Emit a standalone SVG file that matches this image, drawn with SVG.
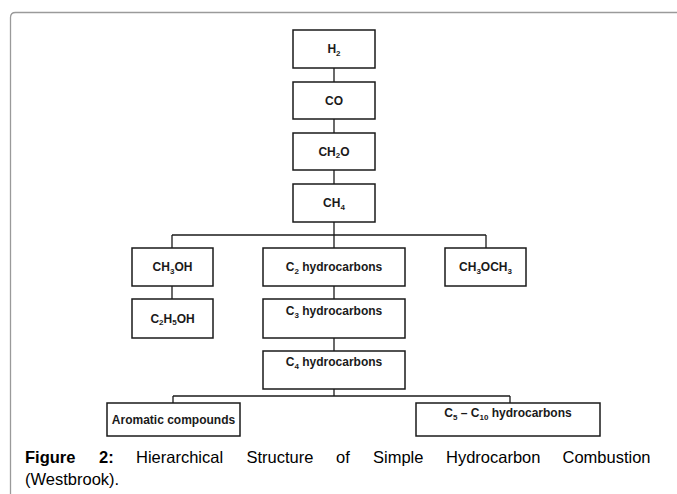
<svg xmlns="http://www.w3.org/2000/svg" width="677" height="494" viewBox="0 0 677 494">
<style>
.box{fill:#fff;stroke:#1a1a1a;stroke-width:1.5}
.lbl{font-family:"Liberation Sans",Arial,sans-serif;font-weight:bold;font-size:12px;fill:#1a1a1a;text-anchor:middle}
.sub{font-size:8px}
.conn line{stroke:#1a1a1a;stroke-width:1.3}
.cap{font-family:"Liberation Sans",Arial,sans-serif;font-size:16.5px;fill:#000}
</style>
<rect width="677" height="494" fill="#fff"/>
<path d="M10.5 494 V17.5 Q10.5 12.5 15.5 12.5 H677" fill="none" stroke="#9a9a9a" stroke-width="1.3"/>
<g class="conn">
<line x1="334" y1="68" x2="334" y2="82"/>
<line x1="334" y1="119" x2="334" y2="133"/>
<line x1="334" y1="170" x2="334" y2="184"/>
<line x1="334" y1="222" x2="334" y2="235"/>
<line x1="172" y1="235" x2="486" y2="235"/>
<line x1="172" y1="235" x2="172" y2="248"/>
<line x1="334" y1="235" x2="334" y2="248"/>
<line x1="486" y1="235" x2="486" y2="248"/>
<line x1="172" y1="286" x2="172" y2="299"/>
<line x1="334" y1="286" x2="334" y2="299"/>
<line x1="334" y1="338" x2="334" y2="351"/>
<line x1="334" y1="389" x2="334" y2="396"/>
<line x1="173" y1="396" x2="510" y2="396"/>
<line x1="173" y1="396" x2="173" y2="403"/>
<line x1="510" y1="396" x2="510" y2="403"/>
</g>
<g id="h2"><rect class="box" x="293" y="30" width="82" height="38"/><text class="lbl" x="334" y="53">H<tspan class="sub" dy="2.5">2</tspan></text></g>
<g id="co"><rect class="box" x="293" y="82" width="82" height="37"/><text class="lbl" x="334" y="104.5">CO</text></g>
<g id="ch2o"><rect class="box" x="293" y="133" width="82" height="37"/><text class="lbl" x="334" y="155.5">CH<tspan class="sub" dy="2.5">2</tspan><tspan dy="-2.5">O</tspan></text></g>
<g id="ch4"><rect class="box" x="293" y="184" width="82" height="38"/><text class="lbl" x="334" y="207">CH<tspan class="sub" dy="2.5">4</tspan></text></g>
<g id="ch3oh"><rect class="box" x="132" y="248" width="81" height="38"/><text class="lbl" x="172.5" y="271">CH<tspan class="sub" dy="2.5">3</tspan><tspan dy="-2.5">OH</tspan></text></g>
<g id="c2"><rect class="box" x="263" y="248" width="142" height="38"/><text class="lbl" x="334" y="271">C<tspan class="sub" dy="2.5">2</tspan><tspan dy="-2.5"> hydrocarbons</tspan></text></g>
<g id="ch3och3"><rect class="box" x="445" y="248" width="81" height="38"/><text class="lbl" x="485.5" y="271">CH<tspan class="sub" dy="2.5">3</tspan><tspan dy="-2.5">OCH</tspan><tspan class="sub" dy="2.5">3</tspan></text></g>
<g id="c2h5oh"><rect class="box" x="132" y="299" width="81" height="39"/><text class="lbl" x="172.5" y="322.5">C<tspan class="sub" dy="2.5">2</tspan><tspan dy="-2.5">H</tspan><tspan class="sub" dy="2.5">5</tspan><tspan dy="-2.5">OH</tspan></text></g>
<g id="c3"><rect class="box" x="263" y="299" width="142" height="39"/><text class="lbl" x="334" y="315">C<tspan class="sub" dy="2.5">3</tspan><tspan dy="-2.5"> hydrocarbons</tspan></text></g>
<g id="c4"><rect class="box" x="263" y="351" width="142" height="38"/><text class="lbl" x="334" y="366">C<tspan class="sub" dy="2.5">4</tspan><tspan dy="-2.5"> hydrocarbons</tspan></text></g>
<g id="aromatic"><rect class="box" x="107" y="403" width="133" height="33"/><text class="lbl" x="173.5" y="423.5">Aromatic compounds</text></g>
<g id="c5c10"><rect class="box" x="416" y="403" width="184" height="33"/><text class="lbl" x="508" y="417">C<tspan class="sub" dy="2.5">5</tspan><tspan dy="-2.5"> – C</tspan><tspan class="sub" dy="2.5">10</tspan><tspan dy="-2.5"> hydrocarbons</tspan></text></g>
<g id="caption" class="cap">
<text x="25" y="463" font-weight="bold">Figure</text>
<text x="99" y="463" font-weight="bold">2:</text>
<text x="136" y="463">Hierarchical</text>
<text x="246.5" y="463">Structure</text>
<text x="336" y="463">of</text>
<text x="373" y="463">Simple</text>
<text x="446" y="463">Hydrocarbon</text>
<text x="562.5" y="463">Combustion</text>
<text x="25" y="485">(Westbrook).</text>
</g>
</svg>
